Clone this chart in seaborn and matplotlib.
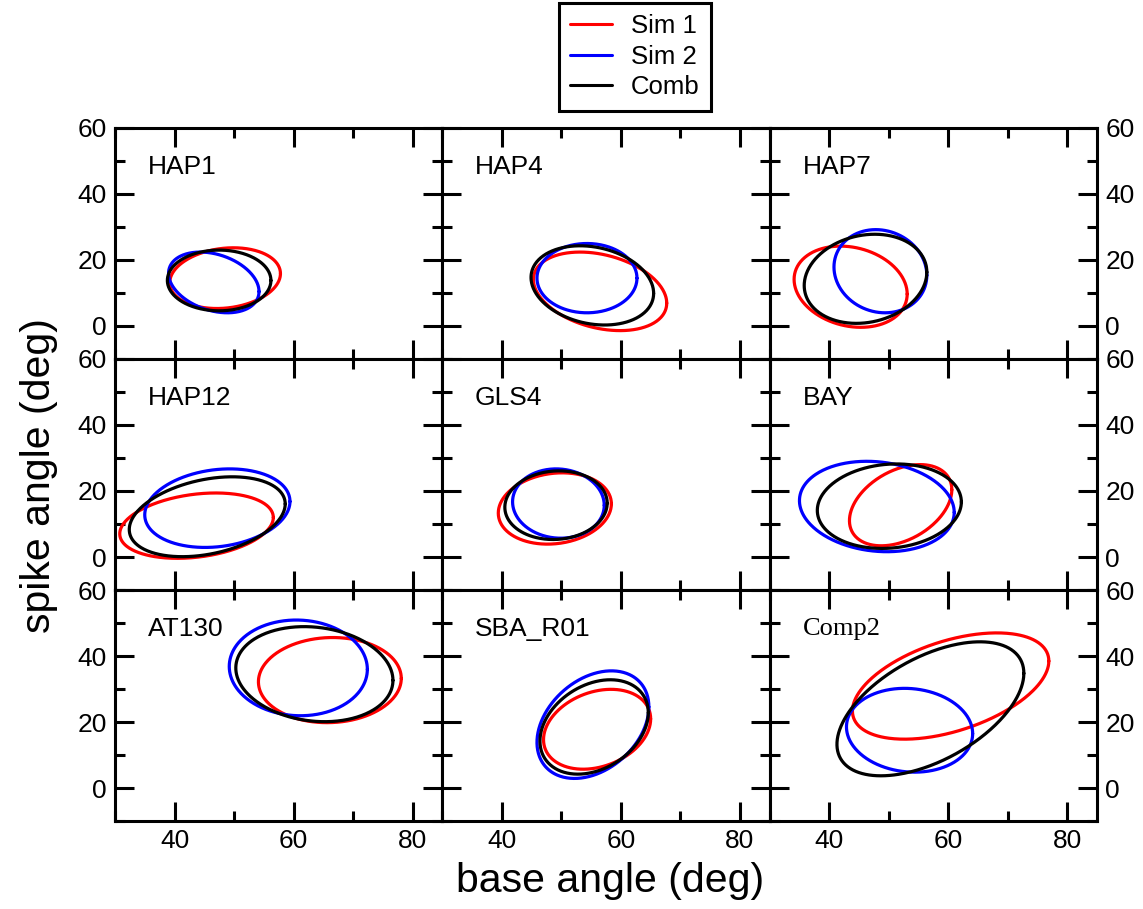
import numpy as np
import pandas as pd
import matplotlib
matplotlib.use("Agg")
import matplotlib.pyplot as plt
from matplotlib.lines import Line2D
from matplotlib.ticker import MultipleLocator
import seaborn as sns

# ---------------- data ----------------
panels = ["HAP1", "HAP4", "HAP7", "HAP12", "GLS4", "BAY", "AT130", "SBA_R01", "Comp2"]
series = ["Sim 1", "Sim 2", "Comb"]
colors = {"Sim 1": "#ff0000", "Sim 2": "#0000ff", "Comb": "#000000"}

# ellipse parameters per panel: [Sim 1, Sim 2, Comb]
# centre x (base angle), centre y (spike angle), half x-extent, half y-extent, correlation
center_x = [[48.5, 46.6, 47.5], [56.5, 54.3, 55.2], [43.6, 48.6, 46.1],
            [43.7, 47.2, 45.5], [48.9, 49.5, 49.1], [52.0, 48.0, 50.1],
            [66.1, 60.8, 63.5], [56.0, 55.3, 55.5], [60.4, 53.5, 57.0]]
center_y = [[14.5, 13.2, 13.8], [10.5, 14.5, 12.3], [11.9, 16.6, 14.3],
            [9.5, 14.8, 12.2], [14.7, 16.2, 15.7], [15.7, 15.3, 15.4],
            [32.7, 36.4, 34.5], [17.8, 19.2, 18.5], [30.9, 17.5, 24.0]]
half_x = [[9.3, 7.6, 8.7], [11.2, 8.4, 10.3], [9.5, 7.8, 10.3],
          [12.9, 12.2, 13.1], [9.5, 7.7, 8.6], [8.6, 13.0, 12.1],
          [12.0, 11.6, 13.2], [9.0, 9.4, 9.1], [16.5, 10.6, 15.7]]
half_y = [[9.2, 9.2, 9.2], [11.9, 10.5, 12.0], [12.3, 12.6, 13.5],
          [9.9, 11.9, 12.1], [10.8, 10.5, 10.4], [12.3, 13.7, 12.8],
          [12.9, 14.5, 14.4], [12.1, 16.3, 14.3], [16.1, 12.7, 20.3]]
corr = [[0.15, -0.3, 0.0], [-0.3, 0.0, -0.2], [-0.18, -0.1, 0.15],
        [0.25, 0.17, 0.32], [0.13, -0.05, 0.06], [0.38, -0.13, 0.1],
        [0.04, -0.03, -0.13], [0.26, 0.33, 0.3], [0.47, -0.08, 0.53]]

x_ticks = [40, 60, 80]
y_ticks = [0, 20, 40, 60]

# ---------------- style ----------------
sns.set_style("ticks")
plt.rcParams["font.family"] = ["Liberation Sans", "DejaVu Sans"]
plt.rcParams["axes.linewidth"] = 2.2
for k in ["text.color", "axes.labelcolor", "xtick.color", "ytick.color", "axes.edgecolor"]:
    plt.rcParams[k] = "black"

fig, axes = plt.subplots(3, 3, figsize=(11.43, 9.09), dpi=100, sharex=True, sharey=True)
fig.subplots_adjust(left=0.1006, right=0.9598, top=0.8592, bottom=0.0968,
                    wspace=0, hspace=0)

t = np.linspace(0, 2 * np.pi, 361)
for p, name in enumerate(panels):
    r, c = divmod(p, 3)
    ax = axes[r, c]
    rows = []
    for s, ser in enumerate(series):
        cx, cy = center_x[p][s], center_y[p][s]
        sx, sy, rho = half_x[p][s], half_y[p][s], corr[p][s]
        xs = cx + sx * np.cos(t)
        ys = cy + sy * (rho * np.cos(t) + np.sqrt(1 - rho ** 2) * np.sin(t))
        rows.append(pd.DataFrame({"x": xs, "y": ys, "series": ser}))
    df = pd.concat(rows, ignore_index=True)
    sns.lineplot(data=df, x="x", y="y", hue="series", hue_order=series, palette=colors,
                 sort=False, estimator=None, units="series", linewidth=2.3,
                 legend=False, ax=ax)
    ax.set_xlim(30, 85)
    ax.set_ylim(-10, 60)
    ax.set_xlabel("")
    ax.set_ylabel("")
    ax.xaxis.set_major_locator(plt.FixedLocator(x_ticks))
    ax.xaxis.set_minor_locator(MultipleLocator(10))
    ax.yaxis.set_major_locator(plt.FixedLocator(y_ticks))
    ax.yaxis.set_minor_locator(MultipleLocator(10))
    ax.tick_params(which="both", direction="in", top=True, bottom=True, left=True, right=True,
                   width=2.2, color="black", labelcolor="black", labelsize=19, pad=6)
    ax.tick_params(which="major", length=13.5)
    ax.tick_params(which="minor", length=7)
    ax.tick_params(labelleft=(c == 0), labelright=(c == 2), labelbottom=(r == 2), labeltop=False)
    for sp in ax.spines.values():
        sp.set_visible(True)
        sp.set_linewidth(2.2)
        sp.set_color("black")
    if name == "Comp2":
        ax.text(0.10, 0.83, name, transform=ax.transAxes, fontsize=19, va="center", ha="left",
                family=["Liberation Serif", "DejaVu Serif"])
    else:
        ax.text(0.10, 0.83, name, transform=ax.transAxes, fontsize=19, va="center", ha="left")

fig.text(0.534, 0.031, "base angle (deg)", ha="center", va="center", fontsize=29.5)
fig.text(0.034, 0.477, "spike angle (deg)", ha="center", va="center", fontsize=29.5, rotation=90)

handles = [Line2D([0], [0], color=colors[s], lw=2.2) for s in series]
leg = fig.legend(handles, series, loc="upper center", bbox_to_anchor=(0.5556, 0.997),
                 fontsize=18.5, frameon=True, fancybox=False, edgecolor="black",
                 handlelength=1.6, handletextpad=0.75, borderpad=0.45, labelspacing=0.25,
                 borderaxespad=0)
leg.get_frame().set_linewidth(2.2)
leg.get_frame().set_alpha(None)

fig.savefig("out.png", dpi=100)
